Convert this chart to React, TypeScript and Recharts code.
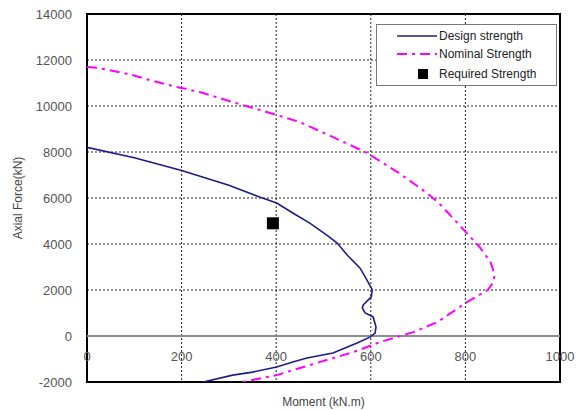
import React from 'react';
import {
  ComposedChart, Line, Scatter, XAxis, YAxis, CartesianGrid, ReferenceLine, ReferenceArea,
} from 'recharts';

// Design strength curve (phi Mn, phi Pn)
const designMoment = [0, 100, 200, 300, 365, 401, 435, 471, 507, 529, 550, 577, 592, 603, 601, 584, 582, 588, 605, 611, 609, 599, 571, 520, 465, 435, 401, 350, 308, 238, 150];
const designAxial = [8200, 7750, 7200, 6550, 6040, 5780, 5350, 4910, 4390, 4040, 3520, 2960, 2430, 2000, 1700, 1350, 1220, 1000, 830, 390, 130, -40, -300, -740, -960, -1130, -1350, -1570, -1700, -2040, -2400];

// Nominal strength curve (Mn, Pn)
const nominalMoment = [0, 25, 96, 132, 189, 238, 308, 380, 450, 520, 592, 659, 716, 744, 787, 830, 853, 862, 858, 847, 804, 741, 690, 656, 620, 563, 486, 401, 350, 301, 250];
const nominalAxial = [11700, 11650, 11350, 11130, 10830, 10610, 10170, 9740, 9300, 8650, 7960, 7090, 6260, 5780, 4830, 3870, 3220, 2650, 2300, 2000, 1480, 610, 170, -40, -260, -700, -1170, -1700, -1910, -2130, -2350];

// Required strength (Mu, Pu)
const requiredMoment = [393];
const requiredAxial = [4900];

const xTicks = [0, 200, 400, 600, 800, 1000];
const yTicks = [-2000, 0, 2000, 4000, 6000, 8000, 10000, 12000, 14000];

const designData = designMoment.map((m, i) => ({ m, p: designAxial[i] }));
const nominalData = nominalMoment.map((m, i) => ({ m, p: nominalAxial[i] }));
const requiredData = requiredMoment.map((m, i) => ({ m, p: requiredAxial[i] }));

const BLUE = '#1c1c8c';
const MAGENTA = '#ff00ff';
const FONT = '"Liberation Sans", Arial, sans-serif';

// x tick labels sit just under the zero line, inside the plot
const XTick = (props: any) => {
  const { x, y, payload } = props;
  return (
    <text x={x} y={y - 28} dy="0.35em" textAnchor="middle" fill="#555" fontSize={13} fontFamily={FONT}>
      {payload.value}
    </text>
  );
};

const YLabel = () => (
  <text x={18} y={198} transform="rotate(-90 18 198)" textAnchor="middle" dominantBaseline="central"
    fill="#444" fontSize={12} fontFamily={FONT}>
    Axial Force(kN)
  </text>
);

const SquareShape = (props: any) => {
  const { cx, cy } = props;
  return <rect x={cx - 6} y={cy - 6} width={12} height={12} fill="#000" />;
};

const LegendBox = () => (
  <div style={{
    position: 'absolute', left: 376, top: 24,
    width: 181, height: 62, border: '1px solid #777', background: '#fff', boxSizing: 'border-box',
    fontFamily: FONT, fontSize: 12, color: '#222', paddingTop: 2,
  }}>
    <div style={{ display: 'flex', alignItems: 'center', height: 18 }}>
      <svg width={62} height={10}><line x1={20} y1={5} x2={60} y2={5} stroke={BLUE} strokeWidth={1.5} /></svg>
      <span>Design strength</span>
    </div>
    <div style={{ display: 'flex', alignItems: 'center', height: 18 }}>
      <svg width={62} height={10}><line x1={20} y1={5} x2={60} y2={5} stroke={MAGENTA} strokeWidth={2} strokeDasharray="10 5 3 5" /></svg>
      <span>Nominal Strength</span>
    </div>
    <div style={{ display: 'flex', alignItems: 'center', height: 22 }}>
      <svg width={62} height={12}><rect x={41} y={1} width={10} height={10} fill="#000" /></svg>
      <span>Required Strength</span>
    </div>
  </div>
);

export default function App() {
  return (
    <div style={{ position: 'absolute', left: 0, top: 0, width: 581, height: 410, background: '#fff' }}>
      <ComposedChart width={581} height={410} margin={{ top: 14, right: 21, bottom: 0, left: 0 }}>
        <CartesianGrid stroke="#222" strokeDasharray="2 2" />
        <XAxis
          type="number"
          dataKey="m"
          domain={[0, 1000]}
          ticks={xTicks}
          allowDataOverflow
          height={28}
          axisLine={false}
          tickLine={false}
          tickSize={0}
          tick={<XTick />}
          interval={0}
          label={{ value: 'Moment (kN.m)', position: 'insideBottom', offset: 4, fill: '#444', fontSize: 12, fontFamily: FONT }}
        />
        <YAxis
          type="number"
          dataKey="p"
          domain={[-2000, 14000]}
          ticks={yTicks}
          allowDataOverflow
          width={87}
          axisLine={false}
          tickLine={false}
          tickSize={0}
          tickMargin={15}
          interval={0}
          tick={{ fill: '#555', fontSize: 13, fontFamily: FONT }}
          label={<YLabel />}
        />
        <ReferenceLine y={0} stroke="#8c8c8c" strokeWidth={2} />
        <ReferenceArea x1={0} x2={1000} y1={-2000} y2={14000} fill="none" stroke="#000" strokeWidth={2} />
        <Line
          data={designData}
          dataKey="p"
          name="Design strength"
          type="linear"
          stroke={BLUE}
          strokeWidth={1.6}
          dot={false}
          activeDot={false}
          isAnimationActive={false}
        />
        <Line
          data={nominalData}
          dataKey="p"
          name="Nominal Strength"
          type="linear"
          stroke={MAGENTA}
          strokeWidth={2}
          strokeDasharray="10 5 3 5"
          dot={false}
          activeDot={false}
          isAnimationActive={false}
        />
        <Scatter
          data={requiredData}
          dataKey="p"
          name="Required Strength"
          fill="#000"
          shape={<SquareShape />}
          isAnimationActive={false}
        />
      </ComposedChart>
      <LegendBox />
    </div>
  );
}
